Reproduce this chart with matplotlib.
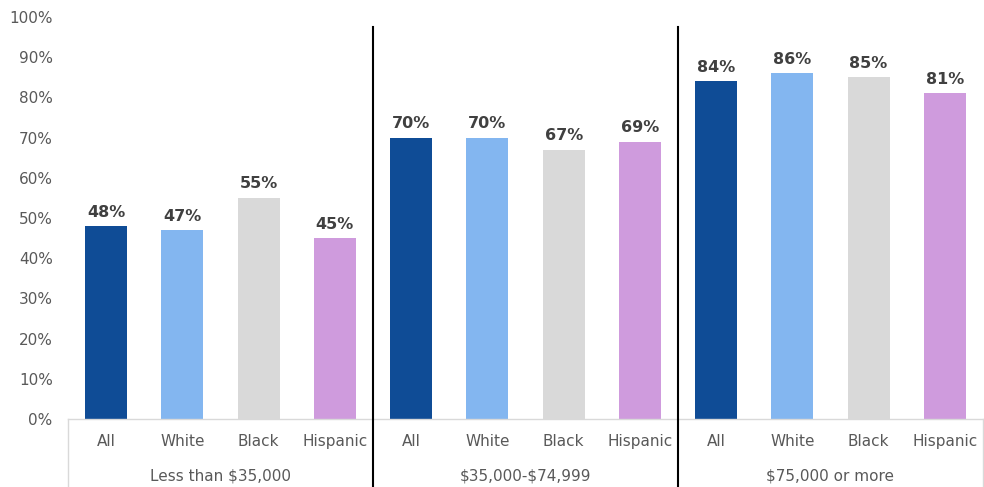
import numpy as np
import matplotlib.pyplot as plt
import matplotlib.transforms as mtransforms

plt.rcParams['font.family'] = ['DejaVu Sans']
plt.rcParams['text.parse_math'] = False

groups = ['Less than $35,000', '$35,000-$74,999', '$75,000 or more']
races = ['All', 'White', 'Black', 'Hispanic']
values = [
    [48, 47, 55, 45],
    [70, 70, 67, 69],
    [84, 86, 85, 81],
]
colors = ['#0F4C96', '#83B6F0', '#D9D9D9', '#CF9BDD']

fig = plt.figure(figsize=(9.84, 4.87), dpi=100)
ax = fig.add_axes([68 / 984, 68 / 487, 915 / 984, 402 / 487])

n = len(races)
for g, vals in enumerate(values):
    x = np.arange(n) + g * n
    ax.bar(x, vals, width=0.55, color=colors)
    for xi, v in zip(x, vals):
        ax.text(xi, v + 1.6, f'{v}%', ha='center', va='bottom',
                fontsize=11.5, fontweight='bold', color='#404040')

ax.set_xlim(-0.5, len(groups) * n - 0.5)
ax.set_ylim(0, 100)
ax.set_yticks(np.arange(0, 101, 10))
ax.set_yticklabels([f'{t}%' for t in range(0, 101, 10)])
ax.tick_params(axis='y', length=0, labelsize=11, labelcolor='#595959', pad=11)
ax.set_xticks([])
for s in ax.spines.values():
    s.set_visible(False)

trans = mtransforms.blended_transform_factory(ax.transData, ax.transAxes)
grey = '#D9D9D9'
# bottom axis line and outer box lines
ax.plot([-0.5, len(groups) * n - 0.5], [0, 0], transform=trans, color=grey,
        lw=1, clip_on=False)
for xb in [-0.5, len(groups) * n - 0.5]:
    ax.plot([xb, xb], [0, -0.2], transform=trans, color=grey, lw=1, clip_on=False)
# group separators
for g in range(1, len(groups)):
    xb = g * n - 0.5
    ax.plot([xb, xb], [0.975, -0.2], transform=trans, color='black', lw=1.5,
            clip_on=False)

for g, name in enumerate(groups):
    for i, r in enumerate(races):
        ax.text(g * n + i, -0.055, r, transform=trans, ha='center', va='center',
                fontsize=11, color='#595959')
    ax.text(g * n + (n - 1) / 2, -0.142, name, transform=trans, ha='center',
            va='center', fontsize=11, color='#595959')

fig.savefig('out.png', dpi=100)
